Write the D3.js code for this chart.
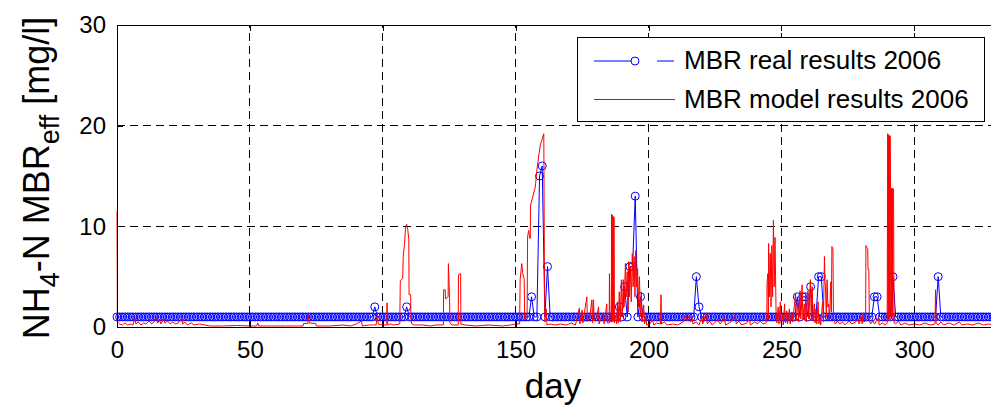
<!DOCTYPE html>
<html>
<head>
<meta charset="utf-8">
<script src="https://cdn.jsdelivr.net/npm/d3@7"></script>
<style>
  body { margin: 0; background: #fff; }
  svg { display: block; font-family: "Liberation Sans", Arial, sans-serif; }
</style>
</head>
<body>
<div id="wrapper"></div>
<script>
/* global d3 */

// measured NH4-N, one value per day (day 0 .. 330), 30 days per row
const realValues = [
  1,1,1,1,1,1,1,1,1,1, 1,1,1,1,1,1,1,1,1,1, 1,1,1,1,1,1,1,1,1,1,   // 0-29
  1,1,1,1,1,1,1,1,1,1, 1,1,1,1,1,1,1,1,1,1, 1,1,1,1,1,1,1,1,1,1,   // 30-59
  1,1,1,1,1,1,1,1,1,1, 1,1,1,1,1,1,1,1,1,1, 1,1,1,1,1,1,1,1,1,1,   // 60-89
  1,1,1,1,1,1,1,2,1,1, 1,1,1,1,1,1,1,1,1,2, 1,1,1,1,1,1,1,1,1,1,   // 90-119
  1,1,1,1,1,1,1,1,1,1, 1,1,1,1,1,1,1,1,1,1, 1,1,1,1,1,1,1,1,1,1,   // 120-149
  1,1,1,1,1,1,3,1,1,15, 16,1,6,1,1,1,1,1,1,1, 1,1,1,1,1,1,1,1,1,1, // 150-179
  1,1,1,1,1,1,1,1,1,2, 1,4,1,6,6,13,1,3,1,1, 1,1,1,1,1,1,1,1,1,1,  // 180-209
  1,1,1,1,1,1,1,1,5,2, 1,1,1,1,1,1,1,1,1,1, 1,1,1,1,1,1,1,1,1,1,   // 210-239
  1,1,1,1,1,1,1,1,1,1, 1,1,1,1,1,1,3,1,3,3, 1,4,1,1,5,5,1,1,1,1,   // 240-269
  1,1,1,1,1,1,1,1,1,1, 1,1,1,1,1,3,3,1,1,1, 1,1,5,1,1,1,1,1,1,1,   // 270-299
  1,1,1,1,1,1,1,1,1,5, 1,1,1,1,1,1,1,1,1,1, 1,1,1,1,1,1,1,1,1,1,   // 300-329
  1                                                               // 330
]

// model NH4-N as [day, value]
const modelResults = [
  [0,11.5],[0.15,0.5],[1,0.3],[2,0.2],[3,0.4],[4,0.2],[5,0.3],[6,0.2],[6.8,0.9],[7.1,0.3],
  [8,0.5],[9,0.2],[10,0.4],[11,0.3],[12,0.6],[13,0.3],[14,0.5],[15,1.0],[15.3,0.4],[16,0.7],
  [16.5,0.3],[17.5,0.8],[18,0.4],[19,0.6],[20,0.3],[21,0.5],[22,0.3],[23,0.4],[24.4,0.9],[24.7,0.3],
  [25.5,0.5],[26.5,0.2],[28,0.4],[29,0.2],[31,0.3],[33,0.2],[35,0.1],[40,0.1],[45,0.15],[50,0.1],
  [52.5,0.1],[53,0.4],[53.3,0.1],[58,0.1],[63,0.1],[68,0.1],[70,0.1],[70.2,0.35],[71.8,0.35],[72,1.2],
  [72.3,0.4],[74.8,0.35],[75,0.1],[80,0.1],[85,0.2],[88,0.1],[90,0.3],[92,0.6],[92.3,0.1],[95,0.2],
  [97.5,0.2],[98,1.4],[98.3,0.3],[100,0.2],[101.5,0.2],[101.6,2.4],[101.9,0.2],[103,0.3],[104,0.2],[106.4,0.3],
  [106.6,4.6],[107.5,4.8],[107.7,7.0],[108.2,8.3],[108.6,10.0],[109,10.2],[109.4,9.7],[109.8,8.7],[109.9,3.2],[110.5,3.2],
  [110.6,0.6],[111,0.3],[112,0.2],[115,0.2],[118,0.1],[120,0.2],[122.8,0.2],[122.9,3.7],[123.5,3.7],[123.6,2.8],
  [124.6,3.0],[124.7,6.3],[125.1,3.2],[125.3,0.4],[126,0.2],[128.4,0.2],[128.5,5.2],[129.3,5.3],[129.4,0.3],[131,0.2],
  [135,0.1],[140,0.2],[145,0.1],[148,0.2],[150,0.3],[151.5,0.3],[151.7,4.7],[152.3,6.3],[152.7,5.3],[153.2,4.8],
  [153.4,0.8],[154.3,1.0],[154.5,9.0],[154.9,9.6],[155.3,8.8],[155.5,8.8],[155.6,12.1],[156.4,12.9],[157.4,13.9],[158,15.6],
  [158.8,17.2],[159.3,18.1],[159.9,18.6],[160.6,19.2],[160.8,7.0],[161,0.5],[161.5,1.8],[161.8,0.2],[163,0.3],[165,0.2],
  [167,0.3],[169,0.2],[171,0.4],[172.5,0.2],[174,1.9],[174.2,0.3],[175,1.7],[175.3,0.4],[176.8,3.0],[177,0.5],
  [178,1.2],[178.7,2.7],[178.9,0.4],[179.3,2.7],[179.5,0.6],[180.5,1.0],[181.2,2.0],[181.4,0.3],[182.5,1.2],[183,1.4],
  [183.3,0.3],[184.3,2.3],[184.5,0.4],[185.2,0.4],[185.3,5.3],[185.5,0.5],[186,0.5],[186.1,11.2],[186.25,0.6],[186.4,11.1],
  [186.55,0.5],[186.7,11.0],[186.85,0.6],[187.0,10.9],[187.2,0.4],[187.5,1.2],[188,0.3],[188.3,2.5],[188.6,0.4],[189,3.5],
  [189.3,0.5],[189.8,4.7],[190.1,1.0],[190.5,4.7],[190.8,2.0],[191.3,6.3],[191.6,3.0],[192,5.5],[192.3,1.5],[192.5,6.5],
  [192.8,3.0],[193.2,6.0],[193.5,2.5],[193.9,7.3],[194.2,4.0],[194.6,7.0],[194.9,3.0],[195.2,7.6],[195.5,4.0],[195.9,5.8],
  [196.2,2.0],[196.6,5.0],[196.9,1.0],[197.3,3.5],[197.6,0.5],[198.2,2.2],[198.5,0.3],[199,1.0],[199.3,0.2],[200.5,0.3],
  [201.5,0.7],[202,0.2],[203,0.4],[204.5,0.3],[204.7,3.2],[204.9,0.3],[206,0.5],[207,0.2],[209,0.3],[211,0.2],
  [213,0.5],[213.9,1.1],[214.5,0.6],[215.2,1.1],[215.8,0.5],[216.4,1.0],[216.7,0.3],[218,0.5],[219,0.2],[220.1,1.0],
  [220.4,0.3],[221.8,1.4],[222.1,0.3],[223,0.6],[224,0.2],[226,0.7],[227,0.3],[228.5,0.9],[229,0.2],[231,0.5],
  [232.7,1.2],[233,0.3],[234,0.6],[235,0.2],[237,0.4],[238,0.8],[238.3,0.2],[240,0.5],[241,0.3],[242,0.6],
  [243,0.3],[244,0.4],[244.5,0.5],[244.6,4.3],[244.9,5.3],[245.1,0.8],[245.2,8.3],[245.5,3.0],[245.8,7.3],[246.1,2.0],
  [246.4,8.1],[246.7,3.0],[247.0,10.6],[247.3,4.0],[247.6,8.9],[247.8,5.0],[248,1.5],[248.3,0.4],[248.8,2.0],[249.1,0.3],
  [249.6,2.5],[249.9,0.4],[250.4,1.3],[250.7,0.2],[251.2,2.3],[251.5,0.4],[252,1.6],[252.3,0.3],[253,1.8],[253.3,0.3],
  [254,1.5],[254.3,0.5],[255.3,3.3],[255.6,0.6],[256.2,2.5],[256.5,0.5],[257,3.6],[257.3,0.8],[257.8,4.2],[258.1,0.7],
  [258.6,2.3],[258.9,0.6],[259.1,3.3],[259.4,0.5],[260,3.6],[260.3,0.8],[260.9,4.7],[261.2,1.0],[261.6,4.0],[261.9,0.6],
  [262.4,2.3],[262.7,0.4],[263,1.8],[263.3,0.3],[263.8,2.5],[264.1,0.3],[264.5,1.0],[264.8,0.2],[265.5,2.5],[265.8,0.5],
  [266.2,7.0],[266.4,4.5],[266.6,4.0],[266.9,1.0],[267.2,4.7],[267.5,2.0],[267.8,2.3],[268.1,0.6],[268.6,4.5],[268.8,1.5],
  [269.0,8.0],[269.4,7.7],[269.6,0.8],[270.3,0.3],[271,0.6],[272,0.3],[273,0.5],[274,0.2],[275.5,0.6],[276.5,0.3],
  [278,0.5],[278.9,0.8],[279.2,0.3],[280.1,1.0],[280.4,0.3],[280.7,1.4],[281,0.5],[281.7,0.6],[281.8,8.1],[282.5,7.7],
  [282.6,5.7],[282.9,5.7],[283.1,0.8],[283.5,0.3],[284.5,0.6],[285,0.3],[286.5,0.9],[286.8,0.2],[288,0.4],[289,0.2],
  [289.5,0.3],[289.8,0.4],[290.0,19.2],[290.15,0.8],[290.3,19.1],[290.45,0.6],[290.6,19.0],[290.75,0.8],[290.9,19.0],[291.05,13.9],
  [291.2,1.0],[291.4,13.8],[291.55,1.2],[291.7,13.8],[291.85,1.0],[292.0,13.7],[292.2,13.7],[292.4,0.4],[293,0.3],[294,0.6],
  [295,0.2],[296.5,0.4],[298,0.2],[300,0.3],[302,0.2],[304,0.4],[306,0.2],[307.8,0.3],[308,3.7],[308.2,0.4],
  [309,0.2],[310,0.5],[311,0.2],[313,0.4],[315,0.2],[317,0.5],[318,0.2],[320,0.3],[322,0.2],[324,0.4],
  [326,0.2],[328,0.3],[330,0.2]
]

const xTicks = [0, 50, 100, 150, 200, 250, 300]
const yTicks = [0, 10, 20, 30]
const legendLabels = ["MBR real results 2006", "MBR model results 2006"]

function drawChart() {

  // accessors
  const xAccessor = d => d[0]
  const yAccessor = d => d[1]
  const realData = realValues.map((v, i) => [i, v])

  // dimensions (the axes run a little past the right edge, like the original)
  let dimensions = {
    width: 991,
    height: 410,
    margins: {
      top: 25,
      right: -3,
      bottom: 83,
      left: 117,
    }
  }
  dimensions.boundedWidth = dimensions.width
    - dimensions.margins.left
    - dimensions.margins.right
  dimensions.boundedHeight = dimensions.height
    - dimensions.margins.top
    - dimensions.margins.bottom

  const wrapper = d3.select("#wrapper")
    .append("svg")
      .attr("width", dimensions.width)
      .attr("height", dimensions.height)

  wrapper.append("rect")
    .attr("width", dimensions.width)
    .attr("height", dimensions.height)
    .attr("fill", "white")

  const bounds = wrapper.append("g")
    .attr("transform", `translate(${dimensions.margins.left}, ${dimensions.margins.top})`)

  // scales
  const xScale = d3.scaleLinear()
    .domain([0, 330])
    .range([0, dimensions.boundedWidth])

  const yScale = d3.scaleLinear()
    .domain([0, 30])
    .range([dimensions.boundedHeight, 0])

  // grid
  const grid = bounds.append("g")
    .attr("stroke", "black")
    .attr("stroke-width", 1)
    .attr("stroke-dasharray", "8,5")
    .attr("shape-rendering", "crispEdges")

  grid.selectAll(".vgrid")
    .data(xTicks.filter(d => d > 0))
    .join("line")
      .attr("x1", d => xScale(d))
      .attr("x2", d => xScale(d))
      .attr("y1", dimensions.boundedHeight)
      .attr("y2", 0)

  grid.selectAll(".hgrid")
    .data(yTicks.filter(d => d > 0 && d < 30))
    .join("line")
      .attr("x1", 0)
      .attr("x2", dimensions.boundedWidth)
      .attr("y1", d => yScale(d))
      .attr("y2", d => yScale(d))

  // real results: blue line with circles
  const realLine = d3.line()
    .x(d => xScale(xAccessor(d)))
    .y(d => yScale(yAccessor(d)))

  bounds.append("path")
    .attr("d", realLine(realData))
    .attr("fill", "none")
    .attr("stroke", "#0000ff")
    .attr("stroke-width", 1)

  bounds.append("g")
    .selectAll("circle")
    .data(realData)
    .join("circle")
      .attr("cx", d => xScale(xAccessor(d)))
      .attr("cy", d => yScale(yAccessor(d)))
      .attr("r", 4)
      .attr("fill", "none")
      .attr("stroke", "#0000ff")
      .attr("stroke-width", 1)

  // model results: red line
  const modelLine = d3.line()
    .x(d => xScale(xAccessor(d)))
    .y(d => yScale(yAccessor(d)))

  bounds.append("path")
    .attr("d", modelLine(modelResults))
    .attr("fill", "none")
    .attr("stroke", "#ff0000")
    .attr("stroke-width", 1)

  // axes box
  const box = bounds.append("g")
    .attr("stroke", "black")
    .attr("stroke-width", 1)
    .attr("shape-rendering", "crispEdges")
  box.append("line")
    .attr("x1", 0).attr("x2", 0)
    .attr("y1", 0).attr("y2", dimensions.boundedHeight)
  box.append("line")
    .attr("x1", 0).attr("x2", dimensions.boundedWidth)
    .attr("y1", 0).attr("y2", 0)
  box.append("line")
    .attr("x1", 0).attr("x2", dimensions.boundedWidth)
    .attr("y1", dimensions.boundedHeight).attr("y2", dimensions.boundedHeight)

  // axes (ticks pointing inwards)
  const xAxisGenerator = d3.axisBottom()
    .scale(xScale)
    .tickValues(xTicks)
    .tickSizeInner(-6)
    .tickSizeOuter(0)
    .tickPadding(14)

  const xAxis = bounds.append("g")
    .attr("transform", `translate(0, ${dimensions.boundedHeight})`)
    .call(xAxisGenerator)

  const xAxisTop = bounds.append("g")
    .call(d3.axisTop().scale(xScale).tickValues(xTicks).tickSizeInner(-6).tickSizeOuter(0).tickFormat(""))

  const yAxisGenerator = d3.axisLeft()
    .scale(yScale)
    .tickValues(yTicks)
    .tickSizeInner(-6)
    .tickSizeOuter(0)
    .tickPadding(11)

  const yAxis = bounds.append("g")
    .call(yAxisGenerator)

  for (const axis of [xAxis, xAxisTop, yAxis]) {
    axis.select(".domain").remove()
    axis.selectAll("text")
      .attr("fill", "black")
      .style("font-family", "'Liberation Sans', Arial, sans-serif")
      .style("font-size", "24px")
    axis.selectAll("line")
      .attr("stroke", "black")
      .attr("shape-rendering", "crispEdges")
  }

  // axis labels
  wrapper.append("text")
    .attr("x", 553)
    .attr("y", 398)
    .attr("text-anchor", "middle")
    .style("font-size", "35px")
    .attr("fill", "black")
    .text("day")

  const yLabel = wrapper.append("text")
    .attr("transform", "translate(49, 178) rotate(-90)")
    .attr("text-anchor", "middle")
    .style("font-size", "36px")
    .attr("fill", "black")
  yLabel.append("tspan").text("NH")
  yLabel.append("tspan").attr("dy", 10).style("font-size", "27px").text("4")
  yLabel.append("tspan").attr("dy", -10).text("-N MBR")
  yLabel.append("tspan").attr("dy", 10).style("font-size", "27px").text("eff")
  yLabel.append("tspan").attr("dy", -10).text(" [mg/l]")

  // legend
  const legend = wrapper.append("g")
  legend.append("rect")
    .attr("x", 577.5)
    .attr("y", 37.5)
    .attr("width", 407)
    .attr("height", 84)
    .attr("fill", "white")
    .attr("stroke", "black")
    .attr("stroke-width", 1)

  legend.append("line")
    .attr("x1", 594).attr("x2", 631)
    .attr("y1", 61).attr("y2", 61)
    .attr("stroke", "#0000ff")
  legend.append("circle")
    .attr("cx", 635).attr("cy", 61).attr("r", 4)
    .attr("fill", "none").attr("stroke", "#0000ff")
  legend.append("line")
    .attr("x1", 657).attr("x2", 674)
    .attr("y1", 61).attr("y2", 61)
    .attr("stroke", "#0000ff")
  legend.append("line")
    .attr("x1", 594).attr("x2", 675)
    .attr("y1", 99.5).attr("y2", 99.5)
    .attr("stroke", "#ff0000")

  legend.selectAll(".label")
    .data(legendLabels)
    .join("text")
      .attr("x", 684)
      .attr("y", (d, i) => 69 + i * 39)
      .style("font-size", "26px")
      .attr("fill", "black")
      .text(d => d)
}

drawChart()
</script>
</body>
</html>
